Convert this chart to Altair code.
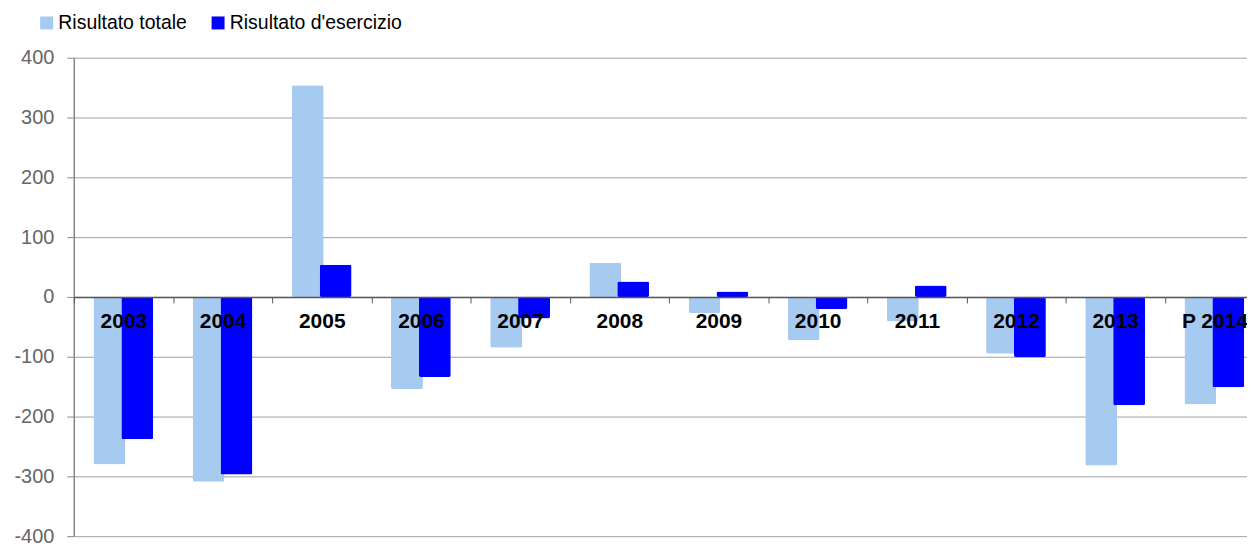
import altair as alt
import pandas as pd

years = ["2003", "2004", "2005", "2006", "2007", "2008", "2009", "2010", "2011", "2012", "2013", "P 2014"]
totale = [-280, -309, 354, -154, -85, 57, -27, -72, -41, -95, -282, -180]
esercizio = [-238, -297, 54, -134, -36, 26, 9, -20, 19, -101, -181, -151]
series_names = ["Risultato totale", "Risultato d'esercizio"]
series_colors = ["#A6CAF0", "#0000FF"]
y_ticks = [-400, -300, -200, -100, 0, 100, 200, 300, 400]

rows = []
for yr, t, e in zip(years, totale, esercizio):
    rows.append({"anno": yr, "serie": series_names[0], "valore": t})
    rows.append({"anno": yr, "serie": series_names[1], "valore": e})
df = pd.DataFrame(rows)

FONT = "Liberation Sans"

x_enc = alt.X(
    "anno:N",
    sort=years,
    scale=alt.Scale(range=[0, 1194], paddingInner=0, paddingOuter=0),
    axis=alt.Axis(
        title=None, orient="bottom", offset=-240, zindex=1, labelAngle=0,
        labelFont=FONT, labelFontSize=21, labelFontWeight="bold", labelColor="black",
        labelPadding=8, tickBand="extent", tickSize=6, tickColor="#555555",
        domainColor="#555555", domainWidth=1.5, labelBound=False, labelOverlap=False,
    ),
)
y_enc = alt.Y(
    "valore:Q",
    scale=alt.Scale(domain=[-400, 400], nice=False),
    axis=alt.Axis(
        title=None, values=y_ticks, grid=True, gridColor="#a0a0a0", gridWidth=1,
        domainColor="#888888", domainWidth=1.5, tickColor="#888888", tickSize=7,
        labelFont=FONT, labelFontSize=20, labelColor="#666666", labelPadding=13,
        labelExpr="datum.value < 0 ? '-' + abs(datum.value) : '' + datum.value",
    ),
)
color_enc = alt.Color(
    "serie:N",
    scale=alt.Scale(domain=series_names, range=series_colors),
    legend=alt.Legend(
        title=None, orient="none", legendX=-37, legendY=-45, direction="horizontal",
        symbolType="square", symbolSize=169, symbolStrokeWidth=0,
        labelFont=FONT, labelFontSize=19.5, labelColor="black", labelLimit=400,
        columnPadding=21, labelOffset=2,
    ),
)

base = alt.Chart(df)
light = base.transform_filter(alt.datum.serie == series_names[0]).mark_bar(
    width=32, xOffset=-14, cornerRadius=2
).encode(x=x_enc, y=y_enc, color=color_enc)
dark = base.transform_filter(alt.datum.serie == series_names[1]).mark_bar(
    width=32, xOffset=14, cornerRadius=2
).encode(x=x_enc, y=y_enc, color=color_enc)

chart = alt.layer(light, dark).properties(
    width=1177, height=480,
    autosize=alt.AutoSizeParams(type="none"),
    padding={"left": 66, "top": 49, "right": 0, "bottom": 9},
).configure_view(stroke=None)

chart.save("out.html", embed_options={"renderer": "svg", "actions": False})
